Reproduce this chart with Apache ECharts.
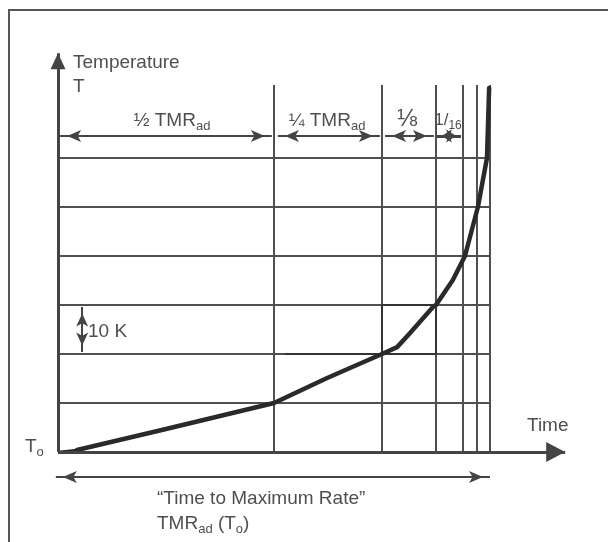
<!DOCTYPE html>
<html><head><meta charset="utf-8">
<script src="https://cdn.jsdelivr.net/npm/echarts@6/dist/echarts.min.js"></script>
<style>html,body{margin:0;padding:0;background:#fff}#c{width:608px;height:542px}</style>
</head><body><div id="c"></div>
<script>
// ---- data (time as fraction of TMRad, temperature in K above T0) ----
const tmrFractions = [0.5, 0.75, 0.875, 0.9375, 0.96875, 1];
const tempLevels = [10, 20, 30, 40, 50, 60];
const guideTop = 74.9;
const curveTime = [0.044, 0.25, 0.5, 0.623, 0.75, 0.785, 0.815, 0.868, 0.875, 0.914, 0.942, 0.972, 0.993, 0.998];
const curveTemp = [0.4, 4.7, 10, 15.1, 20, 21.4, 24.3, 29.6, 30, 35.1, 40, 50, 60, 74.3];
const startTime = [0, 0.044];
const startTemp = [0, 0.4];
const stepTime = [0.525, 0.875, 0.875, 0.75, 0.75];
const stepTemp = [20, 20, 30, 30, 20];
const axisTimeEnd = 1.174;
const axisTempEnd = 81.4;
const spanStart = [0.005, 0.509, 0.757, 0.877];
const spanEnd = [0.495, 0.745, 0.870, 0.933];
const spanLevel = 64.5;
const totalStart = -0.005, totalEnd = 1.0, totalLevel = -5.1;
const deltaTime = 0.056;
const deltaFrom = 20.4, deltaTo = 29.6;
const texts = {
  yName: 'Temperature', ySym: 'T', xName: 'Time', delta: '10 K',
  half: '½ TMR{s|ad}', quarter: '¼ TMR{s|ad}', eighth: '⅛', sixteenth: '{n|1}{l|/}{d|16}',
  t0: 'T{s|o}', full1: '“Time to Maximum Rate”', full2: 'TMR{s|ad} (T{s|o})'
};

const FONT = "'Liberation Sans', Arial, sans-serif";
const TXT = '#4f4f4f';
const LINE = '#505050';

function zipPts(a, b) { return a.map((v, i) => [v, b[i]]); }

function arrowItem(p1, p2, s1, s2, size, width) {
  const sz = size || [9, 14];
  const mk = (p, s) => ({
    coord: p,
    symbol: s || 'none',
    symbolSize: sz,
    symbolOffset: [0, sz[1] / 2]
  });
  const a = mk(p1, s1), b = mk(p2, s2);
  a.lineStyle = { width: width || 2 };
  return [a, b];
}

const arrows = [];
spanStart.forEach((s, i) => {
  arrows.push(arrowItem([s, spanLevel], [spanEnd[i], spanLevel], 'arrow', 'arrow',
    i === 3 ? [10, 10] : [9, 14], i === 3 ? 3 : 2));
});
arrows.push(arrowItem([totalStart, totalLevel], [totalEnd, totalLevel], 'arrow', 'arrow', [9, 14], 2));
arrows.push(arrowItem([deltaTime, deltaFrom], [deltaTime, deltaTo], 'arrow', 'arrow', [9, 13], 2));
arrows.push(arrowItem([0, 0], [axisTimeEnd, 0], 'none', 'triangle', [20, 19], 3));
arrows.push(arrowItem([0, 0], [0, axisTempEnd], 'none', 'triangle', [15, 16], 3));

const chart = echarts.init(document.getElementById('c'), null, { renderer: 'canvas' });

function txt(x, y, text, align, size) {
  const fs = size || 19;
  return {
    type: 'text', x: x, y: y, silent: true,
    style: {
      text: text, fill: TXT, font: fs + 'px ' + FONT, align: align || 'left', verticalAlign: 'middle',
      lineHeight: 24,
      rich: {
        s: { fontSize: 13, fontFamily: FONT, fill: TXT, verticalAlign: 'bottom', lineHeight: 13 },
        n: { fontSize: 17, fontFamily: FONT, fill: TXT, lineHeight: 24 },
        l: { fontSize: 17, fontFamily: FONT, fill: TXT, lineHeight: 24 },
        d: { fontSize: 12, fontFamily: FONT, fill: TXT, verticalAlign: 'bottom', lineHeight: 12 }
      }
    }
  };
}

chart.setOption({
  animation: false,
  backgroundColor: '#fff',
  grid: { left: 14.8, right: 31.6, top: 50.2, bottom: 41, containLabel: false },
  xAxis: { type: 'value', min: -0.1, max: 1.2, show: false },
  yAxis: { type: 'value', min: -10, max: 82, show: false },
  series: [
    {
      type: 'lines', coordinateSystem: 'cartesian2d', silent: true, clip: false, z: 1,
      lineStyle: { color: LINE, width: 2, opacity: 1 },
      data: tempLevels.map(L => ({ coords: [[0, L], [1, L]] }))
    },
    {
      type: 'lines', coordinateSystem: 'cartesian2d', silent: true, clip: false, z: 1,
      lineStyle: { color: LINE, width: 2, opacity: 1 },
      data: tmrFractions.map(f => ({ coords: [[f, 0], [f, guideTop]] }))
    },
    {
      type: 'line', silent: true, symbol: 'none', z: 2,
      lineStyle: { color: '#333', width: 2 },
      data: zipPts(stepTime, stepTemp)
    },
    {
      type: 'line', silent: true, symbol: 'none', z: 3,
      lineStyle: { color: '#2a2a2a', width: 2.5 },
      data: zipPts(startTime, startTemp)
    },
    {
      type: 'line', silent: true, symbol: 'none', z: 4, smooth: false,
      lineStyle: { color: '#2a2a2a', width: 4.5, cap: 'round', join: 'round' },
      data: zipPts(curveTime, curveTemp)
    },
    {
      type: 'line', silent: true, symbol: 'none', data: [], z: 5,
      markLine: {
        silent: true, animation: false, precision: 6,
        symbol: ['none', 'none'],
        label: { show: false },
        lineStyle: { color: '#444', width: 2, type: 'solid' },
        itemStyle: { color: '#444' },
        emphasis: { disabled: true },
        data: arrows
      }
    }
  ],
  graphic: [
    { type: 'line', silent: true, shape: { x1: 9, y1: 10, x2: 9, y2: 542 }, style: { stroke: '#555', lineWidth: 2 } },
    { type: 'line', silent: true, shape: { x1: 8, y1: 10, x2: 608, y2: 10 }, style: { stroke: '#555', lineWidth: 2 } },
    txt(73, 63, texts.yName),
    txt(73, 87, texts.ySym),
    txt(172, 121, texts.half, 'center'),
    txt(327, 121, texts.quarter, 'center'),
    txt(407, 119, texts.eighth, 'center', 24),
    txt(448, 120, texts.sixteenth, 'center'),
    txt(88, 332, texts.delta),
    txt(25, 447, texts.t0),
    txt(527, 426, texts.xName),
    txt(157, 499, texts.full1),
    txt(157, 524, texts.full2)
  ]
});
</script>
</body></html>
